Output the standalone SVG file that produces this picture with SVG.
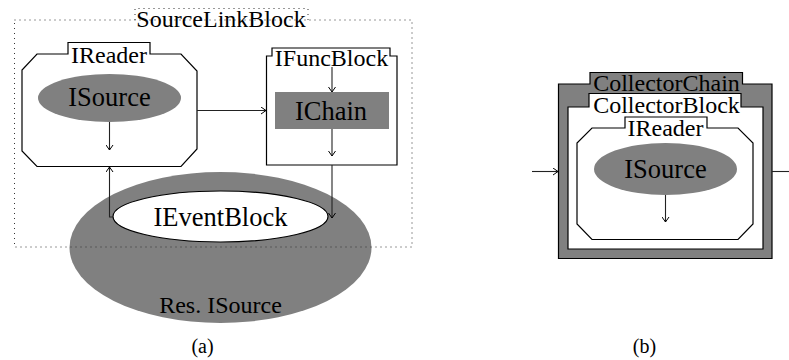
<svg xmlns="http://www.w3.org/2000/svg" width="789" height="360" viewBox="0 0 789 360">
  <style>
    text { font-family: "Liberation Serif", "Times New Roman", serif; fill: #000; text-anchor: middle; }
    .title { font-size: 24px; }
    .label { font-size: 26.5px; }
    .caption { font-size: 20px; }
    .box { fill: #fff; stroke: #000; stroke-width: 1.2; }
    .gray { fill: #808080; }
    .grayline { fill: #808080; stroke: #000; stroke-width: 1.2; }
    .dotted { fill: none; stroke: #333; stroke-width: 1; stroke-dasharray: 1 4; }
    .edge { fill: none; stroke: #222; stroke-width: 1.1; }
  </style>
  <defs>
    <marker id="arrow" viewBox="0 0 6 8" refX="5.5" refY="4" markerWidth="6" markerHeight="8" markerUnits="userSpaceOnUse" orient="auto">
      <path d="M0.5,0.5 L5.5,4 L0.5,7.5" fill="none" stroke="#000" stroke-width="1"/>
    </marker>
  </defs>

  <rect width="789" height="360" fill="#fff"/>

  <!-- (a) -->
  <g id="res-isource">
    <ellipse class="gray" cx="220.5" cy="247.5" rx="151" ry="75.5"/>
    <text class="title" x="220.5" y="313">Res. ISource</text>
  </g>

  <g id="source-link-block">
    <rect class="dotted" x="14.5" y="20" width="397.5" height="227"/>
    <path class="dotted" d="M135,20 L135,8.5 L308,8.5 L308,20"/>
    <text class="title" x="221" y="27">SourceLinkBlock</text>
  </g>

  <g id="ireader-a">
    <path class="box" d="M37,54 L68,54 L68,42.5 L150,42.5 L150,54 L181,54 L197,71 L197,149 L181,166.5 L37,166.5 L22,151 L22,70 Z"/>
    <text class="title" x="109" y="62.5">IReader</text>
  </g>

  <g id="isource-a">
    <ellipse class="gray" cx="109.5" cy="98" rx="71.5" ry="24"/>
    <text class="label" x="109.5" y="105.5">ISource</text>
  </g>

  <g id="ifuncblock">
    <path class="box" d="M266.5,56 L272,56 L272,48 L390,48 L390,56 L397,56 L397,165 L266.5,165 Z"/>
    <text class="title" x="331.5" y="66">IFuncBlock</text>
  </g>

  <g id="ichain">
    <rect class="gray" x="275" y="92" width="114" height="37"/>
    <text class="label" x="331" y="120">IChain</text>
  </g>

  <g id="ieventblock">
    <ellipse class="box" cx="220.5" cy="216.5" rx="107.5" ry="25.5"/>
    <text class="label" x="220.5" y="226">IEventBlock</text>
  </g>

  <!-- (b) -->
  <g id="collector-chain">
    <path class="grayline" d="M558.5,84 L590,84 L590,72.5 L742.5,72.5 L742.5,84 L772,84 L772,258.5 L558.5,258.5 Z"/>
    <text class="title" x="666.5" y="91">CollectorChain</text>
  </g>

  <g id="collector-block">
    <path class="box" d="M568,107 L589,107 L589,93.5 L741,93.5 L741,107 L763,107 L763,249 L568,249 Z"/>
    <text class="title" x="666.5" y="113">CollectorBlock</text>
  </g>

  <g id="ireader-b">
    <path class="box" d="M592,128 L625,128 L625,117 L707,117 L707,128 L738,128 L753,143 L753,224 L738,239.5 L592,239.5 L577,224 L577,143 Z"/>
    <text class="title" x="665.5" y="136">IReader</text>
  </g>

  <g id="isource-b">
    <ellipse class="gray" cx="665.5" cy="169" rx="71.5" ry="26"/>
    <text class="label" x="665.5" y="178">ISource</text>
  </g>

  <g id="connectors">
    <line class="edge" x1="197" y1="110.5" x2="266" y2="110.5" marker-end="url(#arrow)"/>
    <line class="edge" x1="332" y1="67" x2="332" y2="92" marker-end="url(#arrow)"/>
    <line class="edge" x1="332" y1="129" x2="332" y2="156" marker-end="url(#arrow)"/>
    <line class="edge" x1="332" y1="165" x2="332" y2="218" marker-end="url(#arrow)"/>
    <line class="edge" x1="109.5" y1="122" x2="109.5" y2="150" marker-end="url(#arrow)"/>
    <polyline class="edge" points="113,217 109.5,217 109.5,167" marker-end="url(#arrow)"/>
    <line class="edge" x1="532" y1="171.5" x2="558" y2="171.5" marker-end="url(#arrow)"/>
    <line class="edge" x1="772" y1="171.5" x2="789" y2="171.5"/>
    <line class="edge" x1="665.5" y1="195" x2="665.5" y2="222" marker-end="url(#arrow)"/>
  </g>

  <g id="captions">
    <text class="caption" x="202.5" y="353">(a)</text>
    <text class="caption" x="644.5" y="353">(b)</text>
  </g>
</svg>
